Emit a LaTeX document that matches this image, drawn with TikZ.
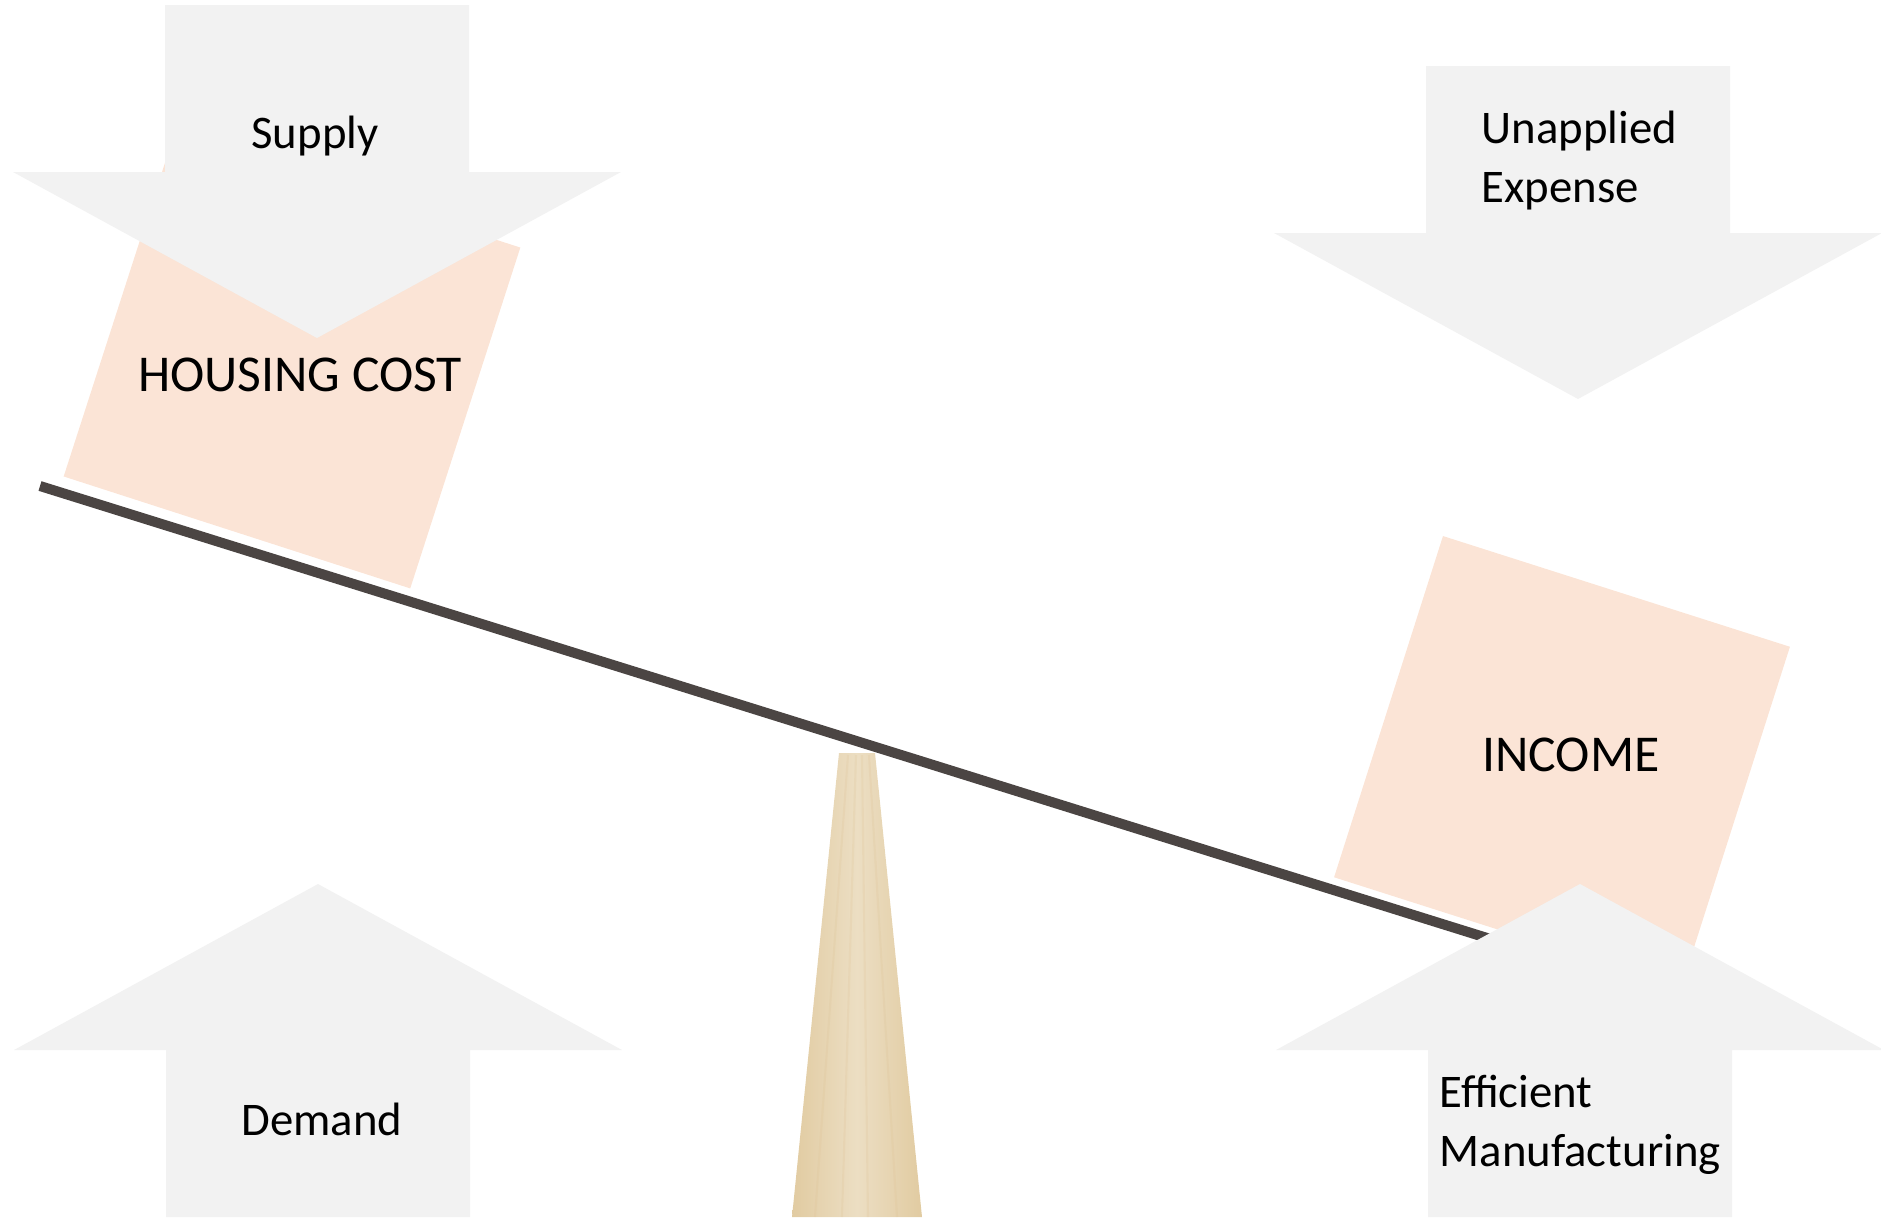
\documentclass[tikz,border=0pt]{standalone}
\usepackage{fontspec}
\setmainfont{Carlito}
\definecolor{arrowgray}{HTML}{F2F2F2}
\definecolor{peach}{HTML}{FBE4D6}
\definecolor{beamgray}{HTML}{4B4543}
\definecolor{woodA}{HTML}{E1CBA1}
\definecolor{woodB}{HTML}{ECDEC3}
\begin{document}
\begin{tikzpicture}[x=0.01cm, y=-0.01cm]
    \tikzstyle{arw}=[fill=arrowgray]
    \tikzstyle{box}=[fill=peach, inner sep=0pt, minimum width=3.64cm, minimum height=3.58cm]
    \tikzstyle{lbl}=[inner sep=0pt, font=\fontsize{13.3}{16.6}\selectfont]
    \tikzstyle{big}=[inner sep=0pt, font=\fontsize{14.7}{17.6}\selectfont]

    \useasboundingbox (0,0) rectangle (1881,1217);

    % fulcrum
    \shade[left color=woodA, right color=woodA, middle color=woodB]
        (839,753) -- (875,753) -- (922,1217) -- (792,1217) -- cycle;
    \foreach \a/\b in {848/815, 856/842, 862/868, 869/897}
        \draw[woodA!85!brown, opacity=0.2, line width=0.6pt] (\a,755) -- (\b,1217);

    % beam
    \coordinate (beamL) at (40,486);
    \coordinate (beamR) at (1500,942);
    \draw[beamgray, line width=0.1cm] (beamL) -- (beamR);

    \node[box, rotate=-17.9] (housebox)  at (292,362) {};
    \node[box, rotate=-17.7] (incomebox) at (1562,762) {};

    \foreach \cx/\t/\s in {317/5/1, 1578/66/1, 318/1217/-1, 1580/1217/-1}
        \fill[arw] (\cx-152,\t) -- (\cx+152,\t) -- (\cx+152,\t+\s*167) -- (\cx+304,\t+\s*167)
            -- (\cx,\t+\s*333) -- (\cx-304,\t+\s*167) -- (\cx-152,\t+\s*167) -- cycle;

    \node[lbl, anchor=base] (supply) at (315,148) {Supply};
    \node[lbl, anchor=base] (demand) at (322,1135) {Demand};
    \node[lbl, anchor=base west, align=left] (unapplied) at (1481,202) {Unapplied\\Expense};
    \node[lbl, anchor=base west, align=left] (efficient) at (1439,1166) {Efficient\\Manufacturing};
    \node[big, anchor=base] (housing) at (300,391) {HOUSING COST};
    \node[big, anchor=base] (income) at (1571,771) {INCOME};
\end{tikzpicture}
\end{document}
